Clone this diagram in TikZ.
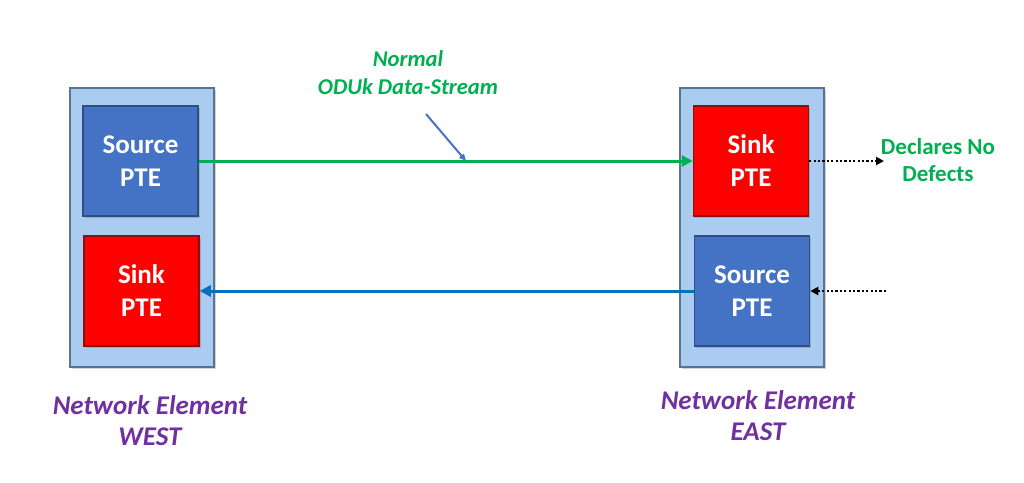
\documentclass[tikz,border=0pt]{standalone}
\usepackage{fontspec}
\setmainfont{Carlito}
\usetikzlibrary{arrows.meta,shadows}
\definecolor{outerfill}{HTML}{A9CCF0}
\definecolor{outerline}{HTML}{5B7393}
\definecolor{srcfill}{HTML}{4472C4}
\definecolor{srcline}{HTML}{2F4F80}
\definecolor{sinkfill}{HTML}{FF0000}
\definecolor{sinkline}{HTML}{8B1010}
\definecolor{grn}{HTML}{00B050}
\definecolor{blu}{HTML}{0070C0}
\definecolor{ptr}{HTML}{4472C4}
\definecolor{purp}{HTML}{7030A0}
\tikzset{
  outerbox/.style={draw=outerline, line width=1.5pt, fill=outerfill, minimum width=144pt, minimum height=279pt, inner sep=0pt,
    drop shadow={shadow xshift=1.5pt, shadow yshift=-1.5pt, opacity=0.35}},
  ptebox/.style={line width=1.5pt, minimum width=115pt, minimum height=110pt, inner sep=0pt, align=center,
    text=white, font=\bfseries\fontsize{27}{33}\selectfont,
    drop shadow={shadow xshift=1.5pt, shadow yshift=-1.5pt, opacity=0.4}},
  srcbox/.style={ptebox, draw=srcline, fill=srcfill},
  sinkbox/.style={ptebox, draw=sinkline, fill=sinkfill},
  link/.style={line width=3pt, -{Triangle[length=11pt,width=11pt]}},
  dotarrow/.style={line width=2.2pt, dash pattern=on 2.2pt off 2.2pt, -{Triangle[length=8pt,width=8pt]}},
  nelabel/.style={text=purp, font=\bfseries\itshape\fontsize{27}{31}\selectfont, align=center},
}
\begin{document}
\begin{tikzpicture}[x=1pt,y=-1pt]
\useasboundingbox (0,0) rectangle (1024,482);
% outer boxes
\node[outerbox] (west) at (142,227.5) {};
\node[outerbox] (east) at (752,227.5) {};
% PTE boxes
\node[srcbox] (wsrc) at (140.5,161) {Source\\PTE};
\node[sinkbox] (wsink) at (141.5,291) {Sink\\PTE};
\node[sinkbox] (esink) at (751,161) {Sink\\PTE};
\node[srcbox] (esrc) at (752,291) {Source\\PTE};
% links
\draw[link, grn] (wsrc.east) -- (esink.west);
\draw[link, blu] (esrc.west) -- (wsink.east);
% dotted
\coordinate (dout) at (884,161);
\coordinate (din) at (886,291);
\draw[dotarrow] (esink.east) -- (dout);
\draw[dotarrow] (din) -- (esrc.east);
% labels
\node[text=grn, font=\bfseries\fontsize{23}{27}\selectfont, align=center] (decl) at (938,160) {Declares No\\Defects};
\node[text=grn, font=\bfseries\itshape\fontsize{22.6}{28}\selectfont, align=center] (normal) at (408,73) {Normal\\ODUk Data-Stream};
\coordinate (ptrs) at (426,114);
\coordinate (ptre) at (466,161);
\draw[ptr, line width=2pt, -{Triangle[length=7pt,width=6pt]}] (ptrs) -- (ptre);
\node[nelabel] (wlab) at (150,421) {Network Element\\WEST};
\node[nelabel] (elab) at (758,416) {Network Element\\EAST};
\end{tikzpicture}
\end{document}
